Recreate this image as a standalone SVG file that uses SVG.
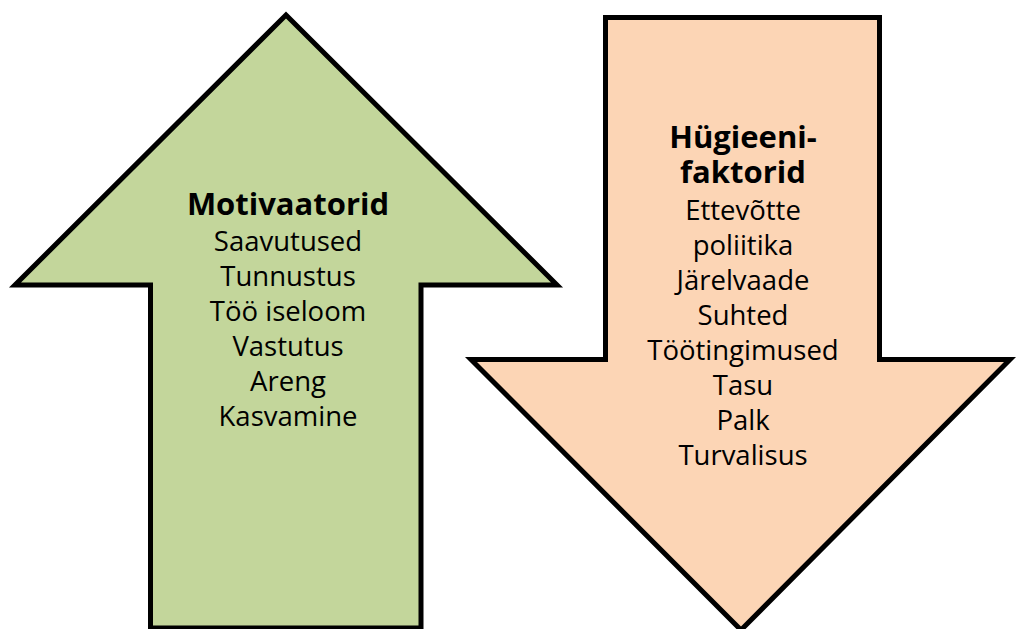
<svg xmlns="http://www.w3.org/2000/svg" width="1016" height="629" viewBox="0 0 1016 629">
<style>
.arrow{stroke:#000;stroke-width:5;stroke-linejoin:miter;stroke-miterlimit:10}
.up{fill:#C3D69B}
.down{fill:#FCD5B5}
text{font-family:"Open Sans","Liberation Sans",sans-serif;fill:#000;text-anchor:middle}
.t{font-weight:bold;font-size:31px}
.i{font-size:27.5px}
</style>
<rect width="1016" height="629" fill="#fff"/>
<g id="motivaatorid">
<polygon class="arrow up" points="286,15 557,285 421,285 421,628 150.5,628 150.5,285 15,285"/>
<text class="t" x="288" y="215">Motivaatorid</text>
<text class="i" x="288" y="251">Saavutused</text>
<text class="i" x="288" y="286">Tunnustus</text>
<text class="i" x="288" y="321">Töö iseloom</text>
<text class="i" x="288" y="356">Vastutus</text>
<text class="i" x="288" y="391">Areng</text>
<text class="i" x="288" y="426">Kasvamine</text>
</g>
<g id="hygieenifaktorid">
<polygon class="arrow down" points="605.5,17.5 879.5,17.5 879.5,359.5 1010,359.5 741,630 471,359.5 605.5,359.5"/>
<text class="t" x="743" y="148">Hügieeni-</text>
<text class="t" x="743" y="183">faktorid</text>
<text class="i" x="743" y="220">Ettevõtte</text>
<text class="i" x="743" y="255">poliitika</text>
<text class="i" x="743" y="290">Järelvaade</text>
<text class="i" x="743" y="325">Suhted</text>
<text class="i" x="743" y="360">Töötingimused</text>
<text class="i" x="743" y="395">Tasu</text>
<text class="i" x="743" y="430">Palk</text>
<text class="i" x="743" y="465">Turvalisus</text>
</g>
<g id="connectors"/>
</svg>
